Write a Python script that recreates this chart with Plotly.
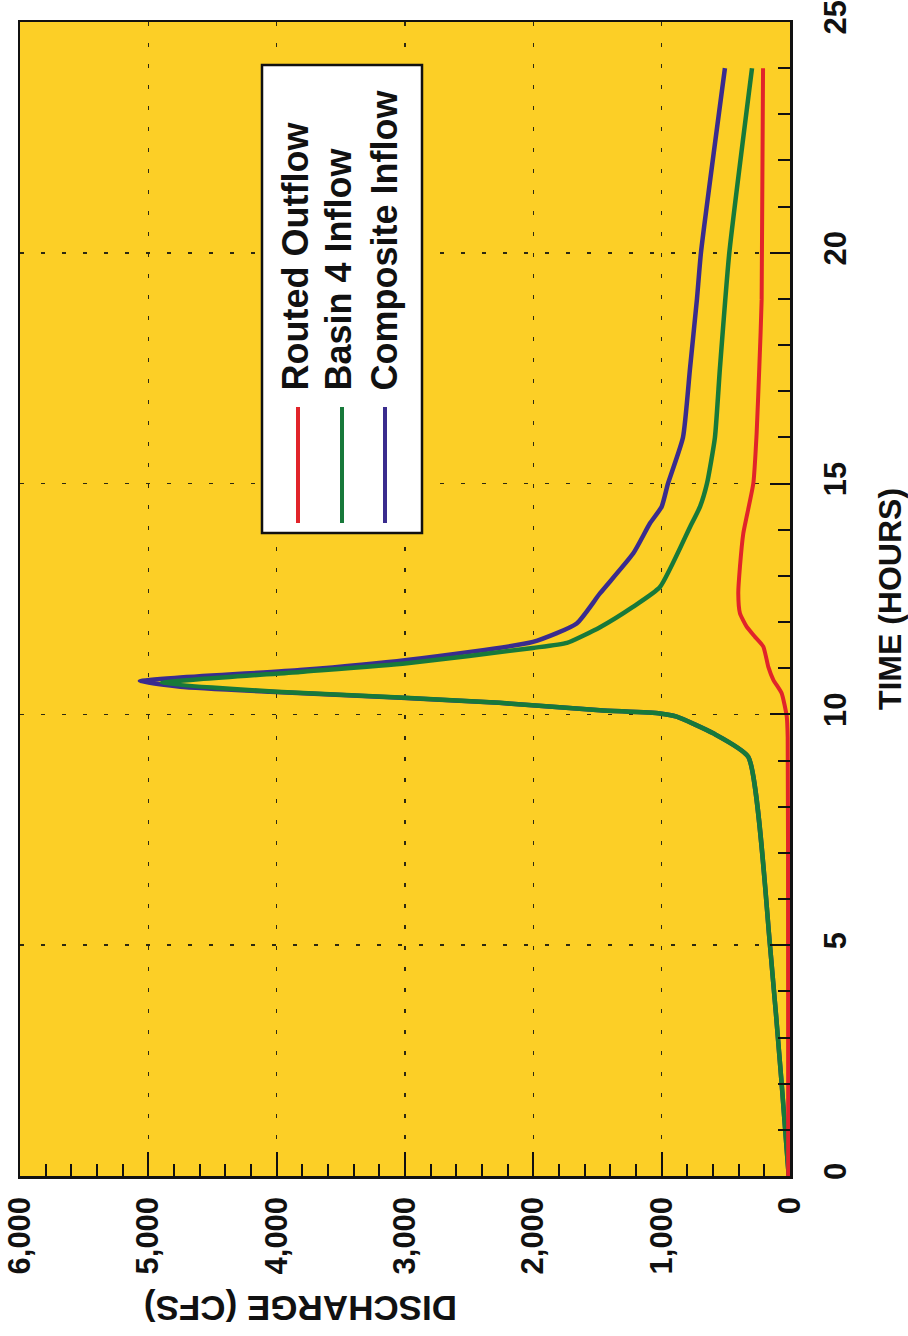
import plotly.graph_objects as go

# ---------------- data ----------------
time_routed = [0, 5, 9.5, 9.95, 10.46, 10.75, 11.03, 11.47, 11.68, 11.9, 12.19, 12.62,
               13.2, 13.92, 15, 16.09, 17.53, 18.98, 24]
q_routed = [14, 15, 18, 25, 65, 130, 169, 208, 273, 338, 390, 403,
            390, 364, 286, 260, 239, 221, 210]

time_basin4 = [0, 2, 5, 9.08, 9.59, 9.95, 10.02, 10.09, 10.25, 10.36, 10.49, 10.68,
               10.92, 11.11, 11.44, 11.55, 11.89, 12.33, 12.76, 14.06, 14.5, 15, 16,
               17.5, 20, 24]
q_basin4 = [10, 65, 156, 325, 598, 883, 1013, 1481, 2260, 3000, 4000, 4895,
            3819, 2985, 2003, 1738, 1480, 1224, 1013, 779, 701, 647, 585,
            546, 473, 296]

time_composite = [0, 2, 5, 9.08, 9.59, 9.95, 10.02, 10.09, 10.25, 10.36, 10.49, 10.6,
                  10.72, 10.96, 11.18, 11.57, 11.97, 12.62, 13.49, 14.14, 14.5, 15,
                  16, 17.5, 19, 20, 24]
q_composite = [10, 65, 156, 325, 598, 883, 1013, 1481, 2270, 3030, 4050, 4750,
               5066, 3819, 2985, 2003, 1662, 1481, 1221, 1091, 1000, 951,
               834, 779, 725, 694, 507]

series_names = ["Routed Outflow", "Basin 4 Inflow", "Composite Inflow"]
series_colors = ["#E1242A", "#17793A", "#3A2C8E"]

discharge_ticks = [0, 1000, 2000, 3000, 4000, 5000, 6000]
time_ticks = [0, 5, 10, 15, 20, 25]

# ---------------- figure ----------------
W, H = 908, 1336
ML, MT = 20, 22
MR, MB = W - 790, H - 1176
PW, PH = W - ML - MR, H - MT - MB


def px_x(p):
    """page pixel x -> paper fraction"""
    return (p - ML) / PW


def px_y(p):
    """page pixel y -> paper fraction"""
    return (H - MB - p) / PH


FONT = "Liberation Sans, Arial, sans-serif"
BG = "#FCCF26"
GRID = "#2E2A10"
INK = "#111111"

fig = go.Figure()
line_common = dict(shape="spline", smoothing=0.5)
# composite first so green sits on top of it
fig.add_trace(go.Scatter(x=q_composite, y=time_composite, mode="lines",
                         line=dict(color=series_colors[2], width=4.5, **line_common),
                         name=series_names[2], showlegend=False, hoverinfo="skip"))
fig.add_trace(go.Scatter(x=q_basin4, y=time_basin4, mode="lines",
                         line=dict(color=series_colors[1], width=4.5, **line_common),
                         name=series_names[1], showlegend=False, hoverinfo="skip"))
fig.add_trace(go.Scatter(x=q_routed, y=time_routed, mode="lines",
                         line=dict(color=series_colors[0], width=4, **line_common),
                         name=series_names[0], showlegend=False, hoverinfo="skip"))

fig.update_layout(
    width=W, height=H,
    margin=dict(l=ML, r=MR, t=MT, b=MB, pad=0, autoexpand=False),
    paper_bgcolor="white",
    plot_bgcolor=BG,
    showlegend=False,
    font=dict(family=FONT, color=INK),
)

fig.update_xaxes(
    range=[6000, 0],
    automargin=False,
    tickvals=discharge_ticks,
    tickformat=",d",
    tickangle=-90,
    tickfont=dict(family=FONT, size=31, weight="bold", color=INK),
    ticks="inside", ticklen=24, tickwidth=2, tickcolor=INK,
    ticklabelstandoff=6,
    ticklabeloverflow="allow",
    minor=dict(dtick=200, ticks="inside", ticklen=12, tickwidth=2,
               tickcolor=INK, showgrid=False),
    showline=True, linecolor=INK, linewidth=2.5, mirror=True,
    showgrid=True, gridcolor=GRID, gridwidth=1.5, griddash="4px,17px",
    zeroline=False,
)

fig.update_yaxes(
    range=[0, 25],
    automargin=False,
    side="right",
    tickvals=time_ticks,
    tickangle=-90,
    tickfont=dict(family=FONT, size=31, weight="bold", color=INK),
    ticks="inside", ticklen=20, tickwidth=2, tickcolor=INK,
    ticklabelstandoff=16,
    ticklabeloverflow="allow",
    minor=dict(dtick=1, ticks="inside", ticklen=12, tickwidth=2,
               tickcolor=INK, showgrid=False),
    showline=True, linecolor=INK, linewidth=2.5, mirror=True,
    showgrid=True, gridcolor=GRID, gridwidth=1.5, griddash="4px,17px",
    zeroline=False,
    title=dict(text="TIME (HOURS)", standoff=29,
               font=dict(family=FONT, size=32, weight="bold", color=INK)),
)

# upside-down discharge axis title
fig.add_annotation(
    text="DISCHARGE (CFS)", textangle=180,
    xref="paper", yref="paper", x=px_x(301), y=px_y(1309),
    xanchor="center", yanchor="middle", showarrow=False,
    font=dict(family=FONT, size=35, weight="bold", color=INK),
)

# rotated legend: box, line swatches and labels
fig.add_shape(type="rect", xref="paper", yref="paper",
              x0=px_x(262), x1=px_x(422), y0=px_y(533), y1=px_y(65),
              fillcolor="white", line=dict(color=INK, width=2.5), layer="above")

legend_x = [298, 342, 385]
label_x = [295, 338, 384]
for name, color, lx, tx in zip(series_names, series_colors, legend_x, label_x):
    fig.add_shape(type="line", xref="paper", yref="paper",
                  x0=px_x(lx), x1=px_x(lx), y0=px_y(523), y1=px_y(407),
                  line=dict(color=color, width=4), layer="above")
    fig.add_annotation(
        text=name, textangle=-90,
        xref="paper", yref="paper", x=px_x(tx), y=px_y(393),
        xanchor="center", yanchor="bottom", showarrow=False,
        font=dict(family=FONT, size=36, weight="bold", color=INK),
    )

fig.write_html(
    "out.html",
    config={"displayModeBar": False, "staticPlot": True},
    post_script="document.body.style.margin='0';document.body.style.padding='0';"
                "document.body.style.overflow='hidden';",
)
